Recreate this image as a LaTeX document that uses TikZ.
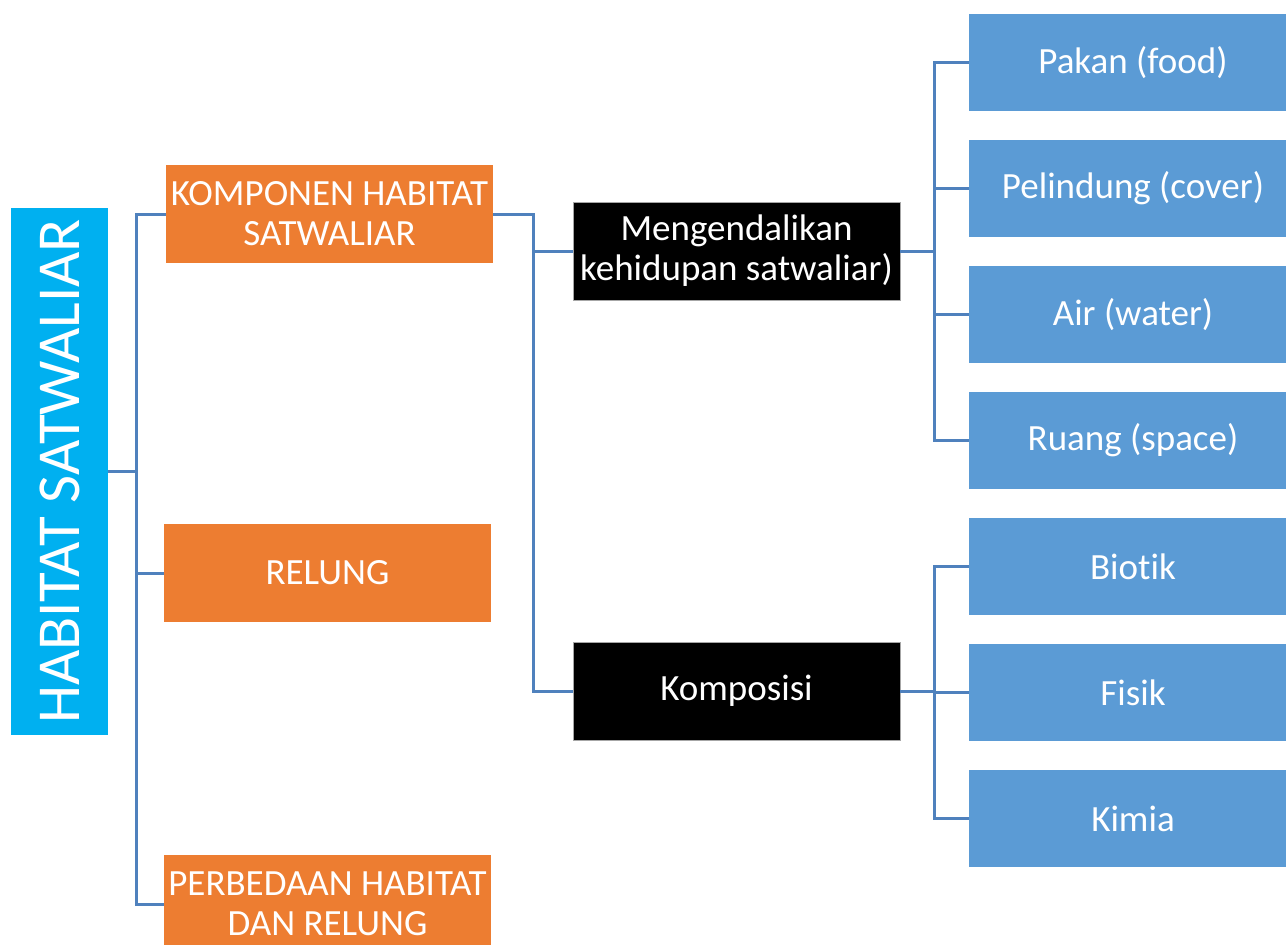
\documentclass[tikz,border=0pt]{standalone}
\usepackage{fontspec}
\setmainfont{Carlito}[Ligatures=NoCommon]
\definecolor{habblue}{HTML}{00B0F0}
\definecolor{komporange}{HTML}{ED7D31}
\definecolor{itemblue}{HTML}{5B9BD5}
\definecolor{connblue}{HTML}{4F81BD}
\tikzset{
    box/.style={rectangle, inner sep=0pt, minimum width=327pt, minimum height=98pt, text=white, align=center, font=\fontsize{37}{40}\selectfont}, % kotak dasar
    topik/.style={box, fill=komporange},
    sub/.style={box, fill=black, draw=gray!70, line width=0.8pt},
    item/.style={box, fill=itemblue, minimum width=328pt, minimum height=97pt},
    conn/.style={draw=connblue, line width=3pt}
}

\begin{document}
\begin{tikzpicture}[x=1pt, y=-1pt]
    \useasboundingbox (0,0) rectangle (1286,945);

    \node[rectangle, inner sep=0pt, fill=habblue, minimum width=97pt, minimum height=527pt, text=white, font=\fontsize{61}{64}\selectfont] (hab) at (59.5,471.5) {\rotatebox{90}{HABITAT SATWALIAR}};

    \node[topik] (komp) at (329.5,214) {KOMPONEN HABITAT\\SATWALIAR};
    \node[topik] (relung) at (327.5,573) {RELUNG};
    \node[topik] (beda) at (327.5,904) {PERBEDAAN HABITAT\\DAN RELUNG};

    \node[sub] (kendali) at (736.5,251) {Mengendalikan\\kehidupan satwaliar)};
    \node[sub] (komposisi) at (736.5,691) {Komposisi};

    \foreach \t [count=\i] in {Pakan (food), Pelindung (cover), Air (water), Ruang (space), Biotik, Fisik, Kimia} {
        \node[item] (item\i) at (1133,62.5+126*\i-126) {\t};
    }

    \foreach \k in {komp, relung, beda} {\draw[conn] (hab.east) -- ++(28,0) |- (\k.west);}
    \foreach \k in {kendali, komposisi} {\draw[conn] (komp.east) -- ++(40,0) |- (\k.west);}
    \foreach \i in {1,...,4} {\draw[conn] (kendali.east) -- ++(34,0) |- (item\i.west);}
    \foreach \i in {5,6,7} {\draw[conn] (komposisi.east) -- ++(34,0) |- (item\i.west);}
\end{tikzpicture}
\end{document}
